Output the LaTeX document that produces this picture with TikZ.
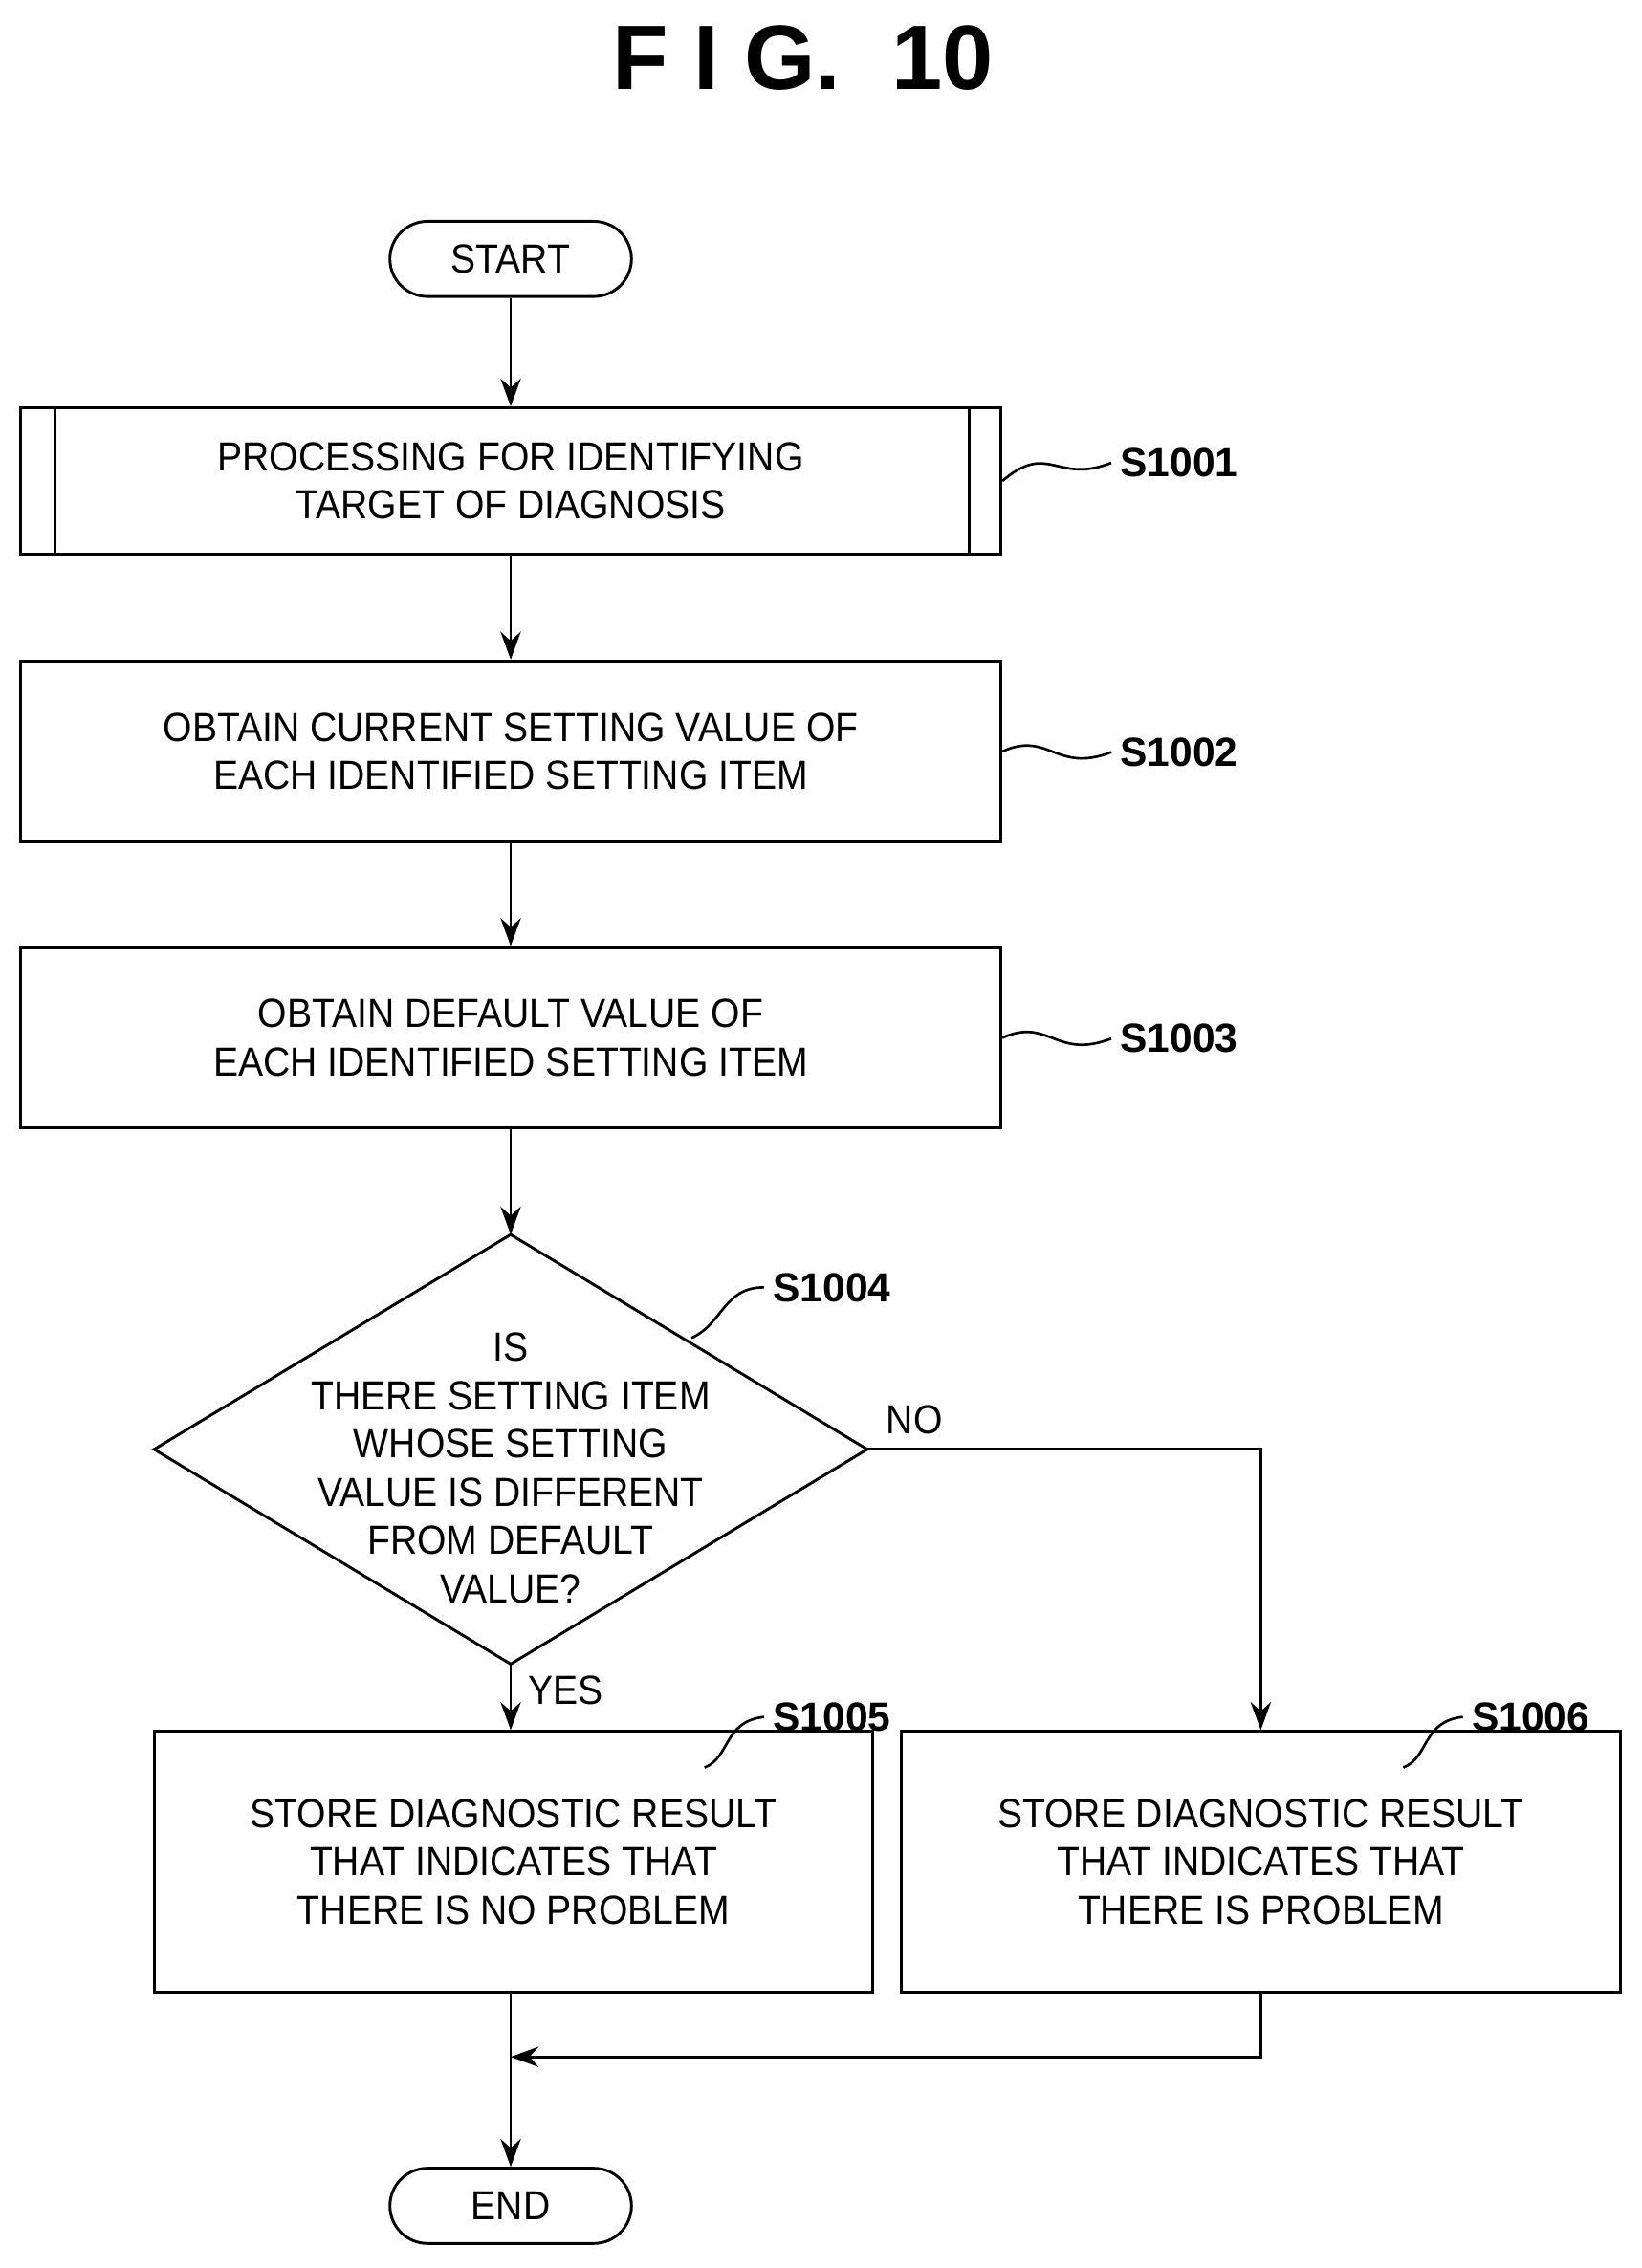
\documentclass[tikz,border=0pt]{standalone}
\usepackage{fontspec}
\setmainfont[FakeStretch=0.92]{Liberation Sans}
\newfontfamily\titlefont{Liberation Sans}
\usetikzlibrary{arrows.meta,shapes.geometric}
\tikzset{
  flow/.style={-{Stealth[length=11pt,width=8pt]},line width=1.1pt},
  box/.style={draw,line width=1.1pt,minimum width=13.56cm,align=center,
    font=\fontsize{16}{19}\selectfont},
  term/.style={draw,line width=1.1pt,rounded corners=0.52cm,minimum width=3.34cm,
    minimum height=1.04cm,font=\fontsize{16}{19}\selectfont},
  tag/.style={font=\titlefont\bfseries\fontsize{16}{19}\selectfont},
  lead/.style={line width=1pt},
}
\begin{document}
\begin{tikzpicture}[x=0.02cm,y=-0.02cm]
    \useasboundingbox (0,0) rectangle (1135,1568);

    % titel
    \node[font=\titlefont\bfseries\fontsize{36}{40}\selectfont] at (555,40) {F I G.\ \ 10};

    % knoten
    \node[term] (start) at (353,179) {START};
    \node[box,minimum height=2.02cm] (s1001) at (353,332.5) {PROCESSING FOR IDENTIFYING\\TARGET OF DIAGNOSIS};
    \draw[line width=1.1pt] (38,282) -- (38,383) (670,282) -- (670,383);
    \node[box,minimum height=2.5cm] (s1002) at (353,519.5) {OBTAIN CURRENT SETTING VALUE OF\\EACH IDENTIFIED SETTING ITEM};
    \node[box,minimum height=2.5cm] (s1003) at (353,717.5) {OBTAIN DEFAULT VALUE OF\\EACH IDENTIFIED SETTING ITEM};
    \node[draw,line width=1.1pt,diamond,inner sep=0pt,outer sep=0pt,minimum width=9.86cm,minimum height=5.94cm,
      shape aspect=1.66] (s1004) at (353,1002) {};
    \node[align=center,font=\fontsize{16}{19}\selectfont] (q1004) at (353,1015)
      {IS\\THERE SETTING ITEM\\WHOSE SETTING\\VALUE IS DIFFERENT\\FROM DEFAULT\\VALUE?};
    \node[box,minimum width=9.92cm,minimum height=3.6cm] (s1005) at (355,1287) {STORE DIAGNOSTIC RESULT\\THAT INDICATES THAT\\THERE IS NO PROBLEM};
    \node[box,minimum width=9.94cm,minimum height=3.6cm] (s1006) at (871.5,1287) {STORE DIAGNOSTIC RESULT\\THAT INDICATES THAT\\THERE IS PROBLEM};
    \node[term] (end) at (353,1525) {END};
    \coordinate (join) at (353,1422);

    % pfeile
    \draw[flow] (start) -- (s1001);
    \draw[flow] (s1001) -- (s1002);
    \draw[flow] (s1002) -- (s1003);
    \draw[flow] (s1003) -- (s1004);
    \draw[flow] (s1004.south) -- (s1005.north -| s1004.south) node[pos=0.4,right=3pt,font=\fontsize{16}{19}\selectfont] {YES};
    \draw[flow] (s1004.east) -- (s1004.east -| s1006.north) node[pos=0.12,above=2pt,font=\fontsize{16}{19}\selectfont] {NO} -- (s1006.north);
    \draw[flow] (s1005.south -| s1004.south) -- (end);
    \draw[flow] (s1006.south) |- (join);

    % schrittnummern
    \node[tag] (t1001) at (815,320) {S1001};
    \node[tag] (t1002) at (815,520) {S1002};
    \node[tag] (t1003) at (815,718) {S1003};
    \node[tag] (t1004) at (575,890) {S1004};
    \node[tag] (t1005) at (575,1187) {S1005};
    \node[tag] (t1006) at (1058,1187) {S1006};
    \draw[lead] (s1001.east) .. controls (725,305) and (730,335) .. (t1001.west);
    \draw[lead] (s1002.east) .. controls (725,505) and (730,535) .. (t1002.west);
    \draw[lead] (s1003.east) .. controls (725,703) and (730,733) .. (t1003.west);
    \draw[lead] (478,925) .. controls (500,915) and (500,890) .. (t1004.west);
    \draw[lead] (487,1222) .. controls (505,1215) and (500,1190) .. (t1005.west);
    \draw[lead] (970,1222) .. controls (988,1215) and (983,1190) .. (t1006.west);
\end{tikzpicture}
\end{document}
